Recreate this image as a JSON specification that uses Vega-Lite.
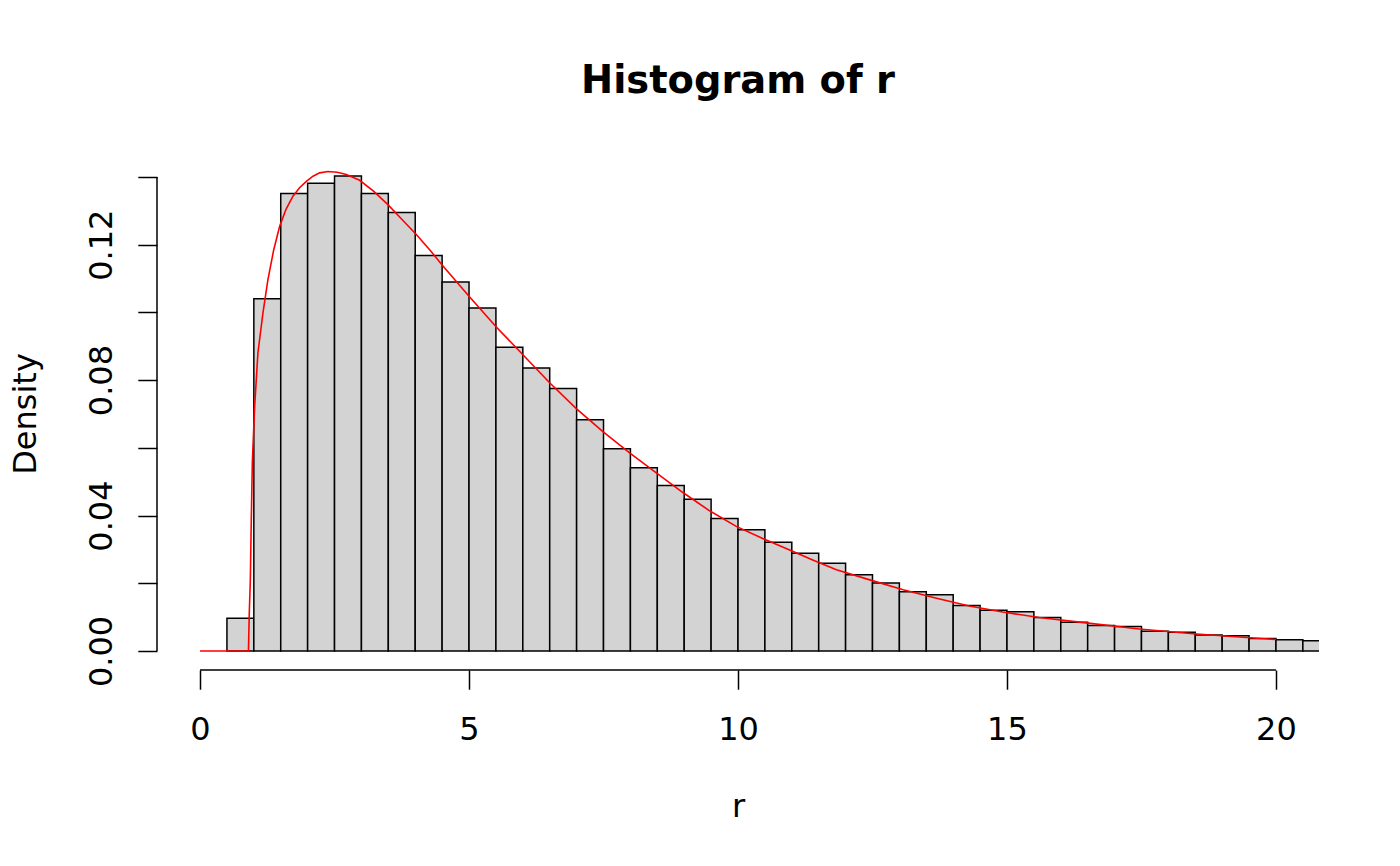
{
  "$schema": "https://vega.github.io/schema/vega-lite/v6.json",
  "width": 1162,
  "height": 513,
  "autosize": {"type": "none"},
  "padding": {"left": 157, "top": 157, "right": 81, "bottom": 196},
  "background": "white",
  "config": {
    "view": {"stroke": null},
    "font": "DejaVu Sans"
  },
  "title": {
    "text": "Histogram of r",
    "font": "DejaVu Sans",
    "fontSize": 38.4,
    "fontWeight": "bold",
    "color": "black",
    "anchor": "middle",
    "frame": "group",
    "baseline": "alphabetic",
    "offset": 25.7
  },
  "datasets": {
    "bars": [
      {"start": 0.5, "end": 1.0, "density": 0.0097},
      {"start": 1.0, "end": 1.5, "density": 0.104},
      {"start": 1.5, "end": 2.0, "density": 0.1351},
      {"start": 2.0, "end": 2.5, "density": 0.1381},
      {"start": 2.5, "end": 3.0, "density": 0.1403},
      {"start": 3.0, "end": 3.5, "density": 0.1351},
      {"start": 3.5, "end": 4.0, "density": 0.1295},
      {"start": 4.0, "end": 4.5, "density": 0.1168},
      {"start": 4.5, "end": 5.0, "density": 0.109},
      {"start": 5.0, "end": 5.5, "density": 0.1013},
      {"start": 5.5, "end": 6.0, "density": 0.0897},
      {"start": 6.0, "end": 6.5, "density": 0.0836},
      {"start": 6.5, "end": 7.0, "density": 0.0775},
      {"start": 7.0, "end": 7.5, "density": 0.0683},
      {"start": 7.5, "end": 8.0, "density": 0.0597},
      {"start": 8.0, "end": 8.5, "density": 0.0541},
      {"start": 8.5, "end": 9.0, "density": 0.0489},
      {"start": 9.0, "end": 9.5, "density": 0.0448},
      {"start": 9.5, "end": 10.0, "density": 0.0391},
      {"start": 10.0, "end": 10.5, "density": 0.0358},
      {"start": 10.5, "end": 11.0, "density": 0.0321},
      {"start": 11.0, "end": 11.5, "density": 0.0289},
      {"start": 11.5, "end": 12.0, "density": 0.0259},
      {"start": 12.0, "end": 12.5, "density": 0.0225},
      {"start": 12.5, "end": 13.0, "density": 0.0201},
      {"start": 13.0, "end": 13.5, "density": 0.0175},
      {"start": 13.5, "end": 14.0, "density": 0.0166},
      {"start": 14.0, "end": 14.5, "density": 0.0134},
      {"start": 14.5, "end": 15.0, "density": 0.012},
      {"start": 15.0, "end": 15.5, "density": 0.0116},
      {"start": 15.5, "end": 16.0, "density": 0.0099},
      {"start": 16.0, "end": 16.5, "density": 0.0085},
      {"start": 16.5, "end": 17.0, "density": 0.0075},
      {"start": 17.0, "end": 17.5, "density": 0.0072},
      {"start": 17.5, "end": 18.0, "density": 0.0058},
      {"start": 18.0, "end": 18.5, "density": 0.0055},
      {"start": 18.5, "end": 19.0, "density": 0.0047},
      {"start": 19.0, "end": 19.5, "density": 0.0045},
      {"start": 19.5, "end": 20.0, "density": 0.0037},
      {"start": 20.0, "end": 20.5, "density": 0.0033},
      {"start": 20.5, "end": 21.0, "density": 0.003}
    ],
    "curve": [
      {"r": 0.0, "d": 0.0},
      {"r": 0.9, "d": 0.0},
      {"r": 0.915, "d": 0.011},
      {"r": 0.935, "d": 0.021},
      {"r": 0.952, "d": 0.038},
      {"r": 0.972, "d": 0.0556},
      {"r": 1.015, "d": 0.0722},
      {"r": 1.076, "d": 0.088},
      {"r": 1.169, "d": 0.0998},
      {"r": 1.262, "d": 0.1097},
      {"r": 1.37, "d": 0.1185},
      {"r": 1.48, "d": 0.1254},
      {"r": 1.6, "d": 0.1305},
      {"r": 1.727, "d": 0.1343},
      {"r": 1.85, "d": 0.1368},
      {"r": 1.976, "d": 0.1387},
      {"r": 2.1, "d": 0.1402},
      {"r": 2.223, "d": 0.1412},
      {"r": 2.377, "d": 0.1416},
      {"r": 2.55, "d": 0.1414},
      {"r": 2.719, "d": 0.1407},
      {"r": 2.967, "d": 0.139},
      {"r": 3.23, "d": 0.1357},
      {"r": 3.492, "d": 0.1318},
      {"r": 3.75, "d": 0.1275},
      {"r": 4.02, "d": 0.123},
      {"r": 4.268, "d": 0.1185},
      {"r": 4.5, "d": 0.1140},
      {"r": 5.004, "d": 0.1047},
      {"r": 5.507, "d": 0.0957},
      {"r": 6.002, "d": 0.0875},
      {"r": 6.498, "d": 0.0792},
      {"r": 6.994, "d": 0.0716},
      {"r": 7.489, "d": 0.0648},
      {"r": 7.985, "d": 0.0585},
      {"r": 8.481, "d": 0.0526},
      {"r": 8.976, "d": 0.0468},
      {"r": 9.472, "d": 0.0414},
      {"r": 9.968, "d": 0.0368},
      {"r": 10.46, "d": 0.0332},
      {"r": 10.96, "d": 0.0298},
      {"r": 11.4, "d": 0.0268},
      {"r": 11.83, "d": 0.024},
      {"r": 12.45, "d": 0.021},
      {"r": 13.07, "d": 0.0181},
      {"r": 13.69, "d": 0.0156},
      {"r": 14.3, "d": 0.0133},
      {"r": 14.92, "d": 0.0115},
      {"r": 15.6, "d": 0.0099},
      {"r": 16.47, "d": 0.0083},
      {"r": 17.46, "d": 0.0065},
      {"r": 18.46, "d": 0.0051},
      {"r": 19.45, "d": 0.004},
      {"r": 20.0, "d": 0.0034}
    ]
  },
  "layer": [
    {
      "data": {"name": "bars"},
      "mark": {"type": "rect", "fill": "#D3D3D3", "stroke": "black", "strokeWidth": 1.5, "clip": true},
      "encoding": {
        "x": {
          "field": "start",
          "type": "quantitative",
          "scale": {"domain": [-0.8, 20.8], "nice": false, "zero": false},
          "axis": {
            "values": [0, 5, 10, 15, 20],
            "domain": false,
            "grid": false,
            "ticks": true,
            "tickSize": 19.2,
            "tickWidth": 1.5,
            "tickColor": "black",
            "labelFont": "DejaVu Sans",
            "labelFontSize": 32,
            "labelColor": "black",
            "labelBaseline": "alphabetic",
            "labelAlign": "center",
            "labelPadding": 50.6,
            "labelFlush": false,
            "labelOverlap": false,
            "title": "r",
            "titleFont": "DejaVu Sans",
            "titleFontSize": 32,
            "titleFontWeight": "normal",
            "titleColor": "black",
            "titleBaseline": "alphabetic",
            "titleY": 146
          }
        },
        "x2": {"field": "end"},
        "y": {
          "field": "density",
          "type": "quantitative",
          "scale": {"domain": [-0.005611, 0.145881], "nice": false, "zero": false},
          "axis": {
            "values": [0, 0.02, 0.04, 0.06, 0.08, 0.1, 0.12, 0.14],
            "labelExpr": "round(datum.value * 100) % 4 == 0 ? format(datum.value, '.2f') : ''",
            "domain": false,
            "grid": false,
            "ticks": true,
            "tickSize": 19.2,
            "tickWidth": 1.5,
            "tickColor": "black",
            "labelFont": "DejaVu Sans",
            "labelFontSize": 32,
            "labelColor": "black",
            "labelAngle": 270,
            "labelAlign": "center",
            "labelBaseline": "alphabetic",
            "labelPadding": 26.5,
            "labelFlush": false,
            "labelOverlap": false,
            "title": "Density",
            "titleFont": "DejaVu Sans",
            "titleFontSize": 32,
            "titleFontWeight": "normal",
            "titleColor": "black",
            "titleAngle": 270,
            "titleBaseline": "alphabetic",
            "titleX": -122
          }
        },
        "y2": {"datum": 0}
      }
    },
    {
      "data": {"name": "curve"},
      "mark": {"type": "line", "color": "#FF0000", "strokeWidth": 1.6},
      "encoding": {
        "x": {"field": "r", "type": "quantitative"},
        "y": {"field": "d", "type": "quantitative"}
      }
    },
    {
      "data": {"values": [{}]},
      "mark": {"type": "rule", "color": "black", "strokeWidth": 1.5},
      "encoding": {
        "x": {"datum": 0, "type": "quantitative"},
        "x2": {"datum": 20},
        "y": {"datum": -0.005611, "type": "quantitative"}
      }
    },
    {
      "data": {"values": [{}]},
      "mark": {"type": "rule", "color": "black", "strokeWidth": 1.5},
      "encoding": {
        "x": {"datum": -0.8, "type": "quantitative"},
        "y": {"datum": 0, "type": "quantitative"},
        "y2": {"datum": 0.14}
      }
    }
  ]
}
